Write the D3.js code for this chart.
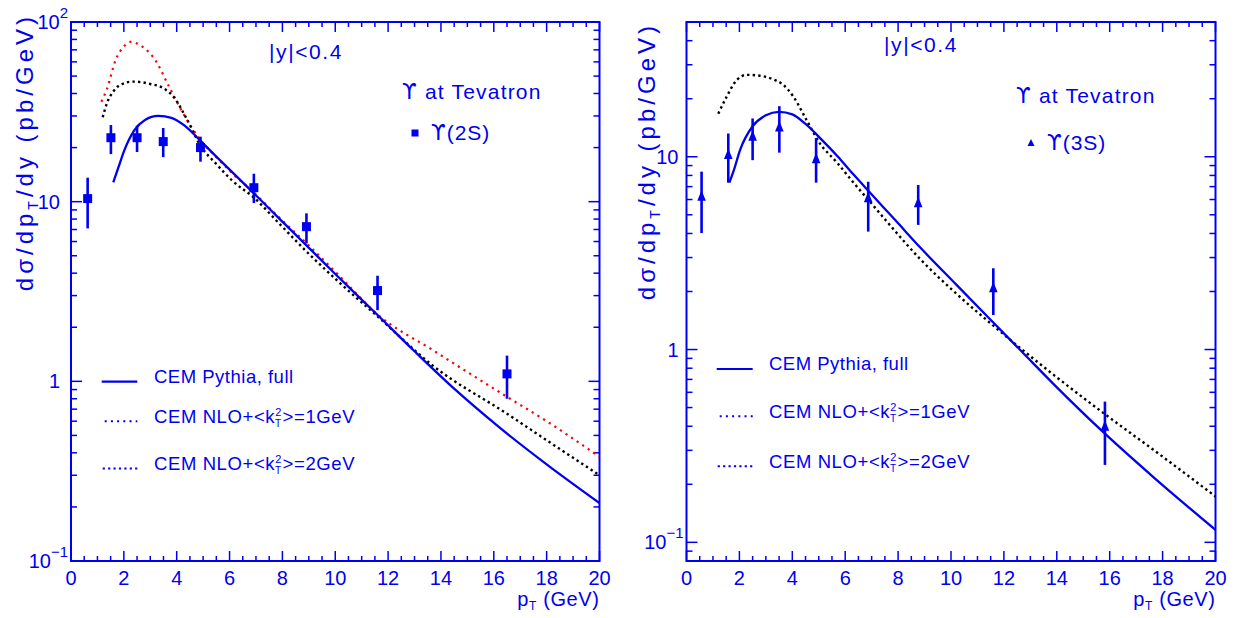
<!DOCTYPE html>
<html>
<head>
<meta charset="utf-8">
<script src="https://cdn.jsdelivr.net/npm/d3@7"></script>
<style>
  html, body { margin: 0; padding: 0; background: #fff; }
  svg { display: block; }
  text { font-family: "Liberation Sans", Arial, "DejaVu Sans", sans-serif; fill: #0000f0; }
  .ups { font-family: "DejaVu Sans", sans-serif; }
</style>
</head>
<body>
<svg id="chart" width="1239" height="618"></svg>
<script>
// ---- data: Upsilon(2S) at the Tevatron, |y|<0.4 ----
// points: [pT, value, upper, lower]
const ups2S = [
  [0.63, 10.4, 13.6, 7.1], [1.51, 22.7, 26.7, 18.4], [2.5, 22.7, 26.5, 18.9],
  [3.49, 21.6, 25.7, 17.7], [4.9, 20.0, 23.0, 16.7], [6.92, 11.96, 14.3, 9.83],
  [8.91, 7.26, 8.61, 5.86], [11.6, 3.2, 3.87, 2.49], [16.5, 1.10, 1.39, 0.80]
];
const pythia2S = [
  [1.6, 12.8], [1.8, 15.6], [2.0, 19.0], [2.4, 25.0], [2.8, 28.5], [3.3, 30.0],
  [3.8, 29.3], [4.3, 26.5], [4.9, 21.8], [5.5, 17.8], [6.1, 14.6], [6.9, 11.2],
  [7.9, 8.0], [8.9, 5.73], [10.0, 3.96], [11.6, 2.34], [13.0, 1.47], [14.5, 0.91],
  [16.2, 0.556], [18.0, 0.345], [20.0, 0.21]
];
const nlo1GeV2S = [
  [1.15, 36], [1.35, 42], [1.7, 62], [2.0, 73], [2.25, 77.5], [2.7, 73], [3.2, 61],
  [3.7, 44], [4.3, 30], [4.9, 22], [5.5, 17.7], [6.1, 14.4], [6.9, 11.3], [7.9, 8.1],
  [9.0, 5.7], [10.2, 3.8], [11.6, 2.36], [13.7, 1.49], [16.5, 0.82], [18.0, 0.6], [20.0, 0.38]
];
const nlo2GeV2S = [
  [1.2, 29.5], [1.35, 35], [1.6, 41], [1.85, 44.6], [2.35, 46.6], [3.0, 45.2],
  [3.5, 42.8], [3.9, 38], [4.4, 28.5], [4.9, 20.5], [5.5, 16.2], [6.1, 13.1], [6.9, 10.6],
  [7.9, 7.5], [8.9, 5.3], [10.2, 3.5], [11.6, 2.3], [13.7, 1.22], [16.5, 0.66],
  [18.0, 0.47], [20.0, 0.30]
];

// ---- data: Upsilon(3S) at the Tevatron, |y|<0.4 ----
const ups3S = [
  [0.57, 6.2, 8.37, 4.02], [1.58, 10.2, 13.2, 7.34], [2.5, 12.7, 15.8, 9.6],
  [3.51, 14.2, 18.3, 10.5], [4.9, 9.7, 12.5, 7.34], [6.87, 6.09, 7.42, 4.09],
  [8.76, 5.74, 7.14, 4.43], [11.6, 2.08, 2.64, 1.51], [15.82, 0.398, 0.537, 0.252]
];
const pythia3S = [
  [1.62, 7.34], [1.8, 8.6], [2.02, 10.8], [2.5, 14.4], [3.0, 16.4], [3.5, 17.1],
  [4.0, 16.6], [4.5, 14.8], [5.05, 12.5], [5.7, 10.1], [6.3, 8.13], [6.9, 6.6],
  [7.9, 4.68], [8.83, 3.39], [10.2, 2.17], [11.6, 1.38], [12.7, 0.968], [13.87, 0.664],
  [15.82, 0.366], [17.65, 0.218], [20.0, 0.116]
];
const nlo2GeV3S = [
  [1.2, 16.7], [1.52, 20.5], [1.9, 25], [2.28, 26.6], [2.78, 26.3], [3.28, 25.2],
  [3.66, 23.6], [4.04, 20.5], [4.54, 15.5], [5.05, 11.7], [5.7, 9.3], [6.31, 7.35],
  [6.91, 5.9], [7.57, 4.62], [8.83, 2.95], [10.2, 1.95], [11.6, 1.33], [13.87, 0.741],
  [15.82, 0.462], [17.65, 0.302], [20.0, 0.173]
];

// axis settings
const xDomain = [0, 20];
const xTickLabels = [0, 2, 4, 6, 8, 10, 12, 14, 16, 18, 20];
const yDomainLeft = [0.1, 100];
const yDomainRight = [0.08, 50];
const yLabelsLeft = [[100, "10", "2"], [10, "10", ""], [1, "1", ""], [0.1, "10", "\u22121"]];
const yLabelsRight = [[10, "10", ""], [1, "1", ""], [0.1, "10", "\u22121"]];

const BLUE = "#0000f0";
const svg = d3.select("#chart");

function upsText(sel, rest) {
  sel.append("tspan").attr("class", "ups").text("\u03d2");
  sel.append("tspan").text(rest);
}

function drawPanel(cfg) {
  const x = d3.scaleLinear().domain(xDomain).range([cfg.x0, cfg.x1]);
  const y = d3.scaleLog().domain(cfg.yDomain).range([cfg.y1, cfg.y0]);
  const g = svg.append("g");

  const clipId = "clip" + cfg.id;
  svg.append("clipPath").attr("id", clipId).append("rect")
    .attr("x", cfg.x0).attr("y", cfg.y0)
    .attr("width", cfg.x1 - cfg.x0).attr("height", cfg.y1 - cfg.y0);

  // frame
  g.append("rect").attr("x", cfg.x0).attr("y", cfg.y0)
    .attr("width", cfg.x1 - cfg.x0).attr("height", cfg.y1 - cfg.y0)
    .attr("fill", "none").attr("stroke", BLUE).attr("stroke-width", 2);

  // x ticks (bottom and top, inward)
  d3.range(0, 20.001, 0.5).forEach(v => {
    const major = Math.abs(v % 2) < 1e-6;
    const len = major ? 10 : 5;
    g.append("line").attr("x1", x(v)).attr("x2", x(v))
      .attr("y1", cfg.y1).attr("y2", cfg.y1 - len)
      .attr("stroke", BLUE).attr("stroke-width", 1.5);
    g.append("line").attr("x1", x(v)).attr("x2", x(v))
      .attr("y1", cfg.y0).attr("y2", cfg.y0 + len)
      .attr("stroke", BLUE).attr("stroke-width", 1.5);
  });
  xTickLabels.forEach(v => {
    g.append("text").attr("x", x(v)).attr("y", cfg.y1 + 24)
      .attr("text-anchor", "middle").attr("font-size", 20).text(v);
  });

  // y ticks (left and right, inward)
  y.ticks().forEach(v => {
    const lg = Math.log10(v);
    const major = Math.abs(lg - Math.round(lg)) < 1e-6;
    const len = major ? 11 : 6;
    g.append("line").attr("x1", cfg.x0).attr("x2", cfg.x0 + len)
      .attr("y1", y(v)).attr("y2", y(v))
      .attr("stroke", BLUE).attr("stroke-width", 1.5);
    g.append("line").attr("x1", cfg.x1).attr("x2", cfg.x1 - len)
      .attr("y1", y(v)).attr("y2", y(v))
      .attr("stroke", BLUE).attr("stroke-width", 1.5);
  });
  cfg.yLabels.forEach(([v, base, exp]) => {
    if (exp) {
      const t = g.append("text").attr("x", cfg.x0 - 3).attr("y", y(v) + 7)
        .attr("text-anchor", "end").attr("font-size", 20);
      t.append("tspan").text(base);
      t.append("tspan").attr("font-size", 15).attr("dy", -11).text(exp);
    } else {
      g.append("text").attr("x", cfg.x0 - cfg.labGap).attr("y", y(v) + 7)
        .attr("text-anchor", "end").attr("font-size", 20).text(base);
    }
  });

  // axis titles
  const xt2 = g.append("text").attr("x", cfg.x1).attr("y", cfg.y1 + 45)
    .attr("text-anchor", "end").attr("font-size", 20).attr("letter-spacing", 0.6);
  xt2.append("tspan").text("p");
  xt2.append("tspan").attr("font-size", 12).attr("dy", 4).text("T");
  xt2.append("tspan").attr("dy", -4).text(" (GeV)");

  const yt = g.append("text")
    .attr("transform", `translate(${cfg.titleX},${cfg.titleY}) rotate(-90)`)
    .attr("text-anchor", "end").attr("font-size", 24).attr("letter-spacing", 4);
  yt.append("tspan").text("d\u03c3/dp");
  yt.append("tspan").attr("font-size", 14).attr("dy", 5).text("T");
  yt.append("tspan").attr("dy", -5).text("/dy (pb/GeV)");

  // theory curves
  const line = d3.line().x(d => x(d[0])).y(d => y(d[1])).curve(d3.curveMonotoneX);
  const curves = g.append("g").attr("clip-path", `url(#${clipId})`);
  cfg.curves.forEach(c => {
    curves.append("path").datum(c.data).attr("d", line)
      .attr("fill", "none").attr("stroke", c.color)
      .attr("stroke-width", c.width)
      .attr("stroke-dasharray", c.dash || null);
  });

  // data points with error bars
  const pts = g.append("g");
  cfg.points.forEach(p => {
    pts.append("line").attr("x1", x(p[0])).attr("x2", x(p[0]))
      .attr("y1", y(p[2])).attr("y2", y(p[3]))
      .attr("stroke", BLUE).attr("stroke-width", 2.6);
    if (cfg.marker === "square") {
      pts.append("rect").attr("x", x(p[0]) - 4.5).attr("y", y(p[1]) - 4.5)
        .attr("width", 9).attr("height", 9).attr("fill", BLUE);
    } else {
      const cx = x(p[0]), cy = y(p[1]);
      pts.append("path")
        .attr("d", `M${cx},${cy - 6.5}L${cx + 4.3},${cy + 4}L${cx - 4.3},${cy + 4}Z`)
        .attr("fill", BLUE);
    }
  });

  // header texts
  g.append("text").attr("x", cfg.yCutX).attr("y", cfg.yCutY).attr("font-size", 21)
    .attr("letter-spacing", 1.6).text("|y|<0.4");
  upsText(g.append("text").attr("x", cfg.tevX).attr("y", cfg.tevY).attr("font-size", 21)
    .attr("letter-spacing", 1.2), " at Tevatron");
  if (cfg.marker === "square") {
    g.append("rect").attr("x", cfg.mkX - 3.5).attr("y", cfg.mkY - 3.5)
      .attr("width", 7).attr("height", 7).attr("fill", BLUE);
  } else {
    g.append("path")
      .attr("d", `M${cfg.mkX},${cfg.mkY - 4}L${cfg.mkX + 3.5},${cfg.mkY + 3}L${cfg.mkX - 3.5},${cfg.mkY + 3}Z`)
      .attr("fill", BLUE);
  }
  upsText(g.append("text").attr("x", cfg.mkX + 16).attr("y", cfg.mkY + 7).attr("font-size", 21)
    .attr("letter-spacing", 1), cfg.stateLabel);

  // legend
  const L = cfg.legend;
  g.append("line").attr("x1", L.x1).attr("x2", L.x2).attr("y1", L.rows[0] - 1).attr("y2", L.rows[0] - 1)
    .attr("stroke", BLUE).attr("stroke-width", 2.2);
  g.append("line").attr("x1", L.x1 + 3).attr("x2", L.x2).attr("y1", L.rows[1] - 2).attr("y2", L.rows[1] - 2)
    .attr("stroke", BLUE).attr("stroke-width", 2).attr("stroke-dasharray", "2,4.2");
  g.append("line").attr("x1", L.x1 + 1).attr("x2", L.x2).attr("y1", L.rows[2] - 1.5).attr("y2", L.rows[2] - 1.5)
    .attr("stroke", BLUE).attr("stroke-width", 2).attr("stroke-dasharray", "2.2,3.2");

  g.append("text").attr("x", L.tx).attr("y", L.rows[0]).attr("font-size", 18.5)
    .attr("letter-spacing", 0.5).text("CEM Pythia, full");
  ["1GeV", "2GeV"].forEach((lab, i) => {
    const t = g.append("text").attr("x", L.tx).attr("y", L.rows[i + 1]).attr("font-size", 18.5)
      .attr("letter-spacing", 0.6);
    t.append("tspan").text("CEM NLO+<k");
    t.append("tspan").attr("font-size", 11).attr("dy", -7).text("2");
    t.append("tspan").attr("font-size", 10).attr("dx", -7).attr("dy", 11).text("T");
    t.append("tspan").attr("dy", -4).attr("dx", 1).text(">=" + lab);
  });
}

drawPanel({
  id: "L", x0: 71, x1: 599.5, y0: 22, y1: 561, yDomain: yDomainLeft, yLabels: yLabelsLeft,
  titleX: 33, titleY: 13, labGap: 11,
  curves: [
    { data: nlo1GeV2S, color: "#ff0000", width: 2.2, dash: "2.2,4.5" },
    { data: nlo2GeV2S, color: "#000000", width: 2.4, dash: "2.4,3.2" },
    { data: pythia2S, color: BLUE, width: 2.3 }
  ],
  points: ups2S, marker: "square",
  yCutX: 269, yCutY: 59, tevX: 402, tevY: 99, mkX: 415, mkY: 133, stateLabel: "(2S)",
  legend: { x1: 101.7, x2: 137.3, tx: 154, rows: [382.7, 423.3, 470] }
});

drawPanel({
  id: "R", x0: 686.5, x1: 1215.5, y0: 22, y1: 561, yDomain: yDomainRight, yLabels: yLabelsRight,
  titleX: 655, titleY: 22, labGap: 8,
  curves: [
    { data: nlo2GeV3S, color: "#000000", width: 2.4, dash: "2.4,3.2" },
    { data: pythia3S, color: BLUE, width: 2.3 }
  ],
  points: ups3S, marker: "triangle",
  yCutX: 884, yCutY: 52, tevX: 1016, tevY: 103, mkX: 1031, mkY: 143, stateLabel: "(3S)",
  legend: { x1: 716.7, x2: 752.7, tx: 769, rows: [370, 418.3, 467.7] }
});
</script>
</body>
</html>
